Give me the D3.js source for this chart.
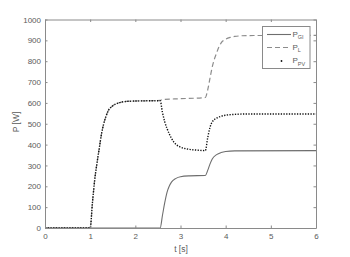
<!DOCTYPE html>
<html><head><meta charset="utf-8">
<script src="https://cdn.jsdelivr.net/npm/d3@7"></script>
<style>body{margin:0;background:#fff}svg{display:block}</style>
</head><body>
<svg id="c" width="350" height="257"></svg>
<script>
// ---- data ----
const xTicks = [0,1,2,3,4,5,6];
const yTicks = [0,100,200,300,400,500,600,700,800,900,1000];

const tPV = [0,1.0,1.05,1.1,1.15,1.2,1.25,1.3,1.35,1.4,1.5,1.6,1.7,1.8,2.0,2.3,2.55,2.6,2.65,2.7,2.75,2.8,2.85,2.9,3.0,3.1,3.2,3.4,3.55,3.6,3.65,3.7,3.8,3.9,4.0,4.2,4.5,6];
const vPV = [0,0,120,230,310,380,450,500,535,562,586,598,604,607,609,610,610,555,510,478,452,430,413,401,388,381,377,373,371,430,480,508,527,536,541,545,547,547];

const tL = [0,1.0,1.05,1.1,1.15,1.2,1.25,1.3,1.35,1.4,1.5,1.6,1.7,1.8,2.0,2.3,2.55,2.6,3.0,3.55,3.6,3.65,3.7,3.75,3.8,3.85,3.9,4.0,4.1,4.2,4.5,6];
const vL = [0,0,120,230,310,380,450,500,535,562,586,598,604,607,609,610,612,616,620,626,660,715,770,810,840,868,888,905,914,919,923,924];

const tG = [0,2.55,2.6,2.65,2.7,2.75,2.8,2.9,3.0,3.2,3.55,3.6,3.65,3.7,3.8,3.9,4.0,4.2,6];
const vG = [0,0,60,120,170,200,220,238,246,250,252,275,305,330,352,362,367,370,371];

const legendNames = [["P","GI"],["P","L"],["P","PV"]];

// ---- chart ----
const svg = d3.select("#c");
const L = 45, R = 316, T = 19.5, B = 228;
const x = d3.scaleLinear().domain([0,6]).range([L,R]);
const y = d3.scaleLinear().domain([0,1000]).range([B,T]);
const axisCol = "#8a8a8a", txtCol = "#5a5a5a";
const font = "Liberation Sans, Arial, sans-serif";

const toPts = (t,v) => t.map((d,i)=>[d,v[i]]);
const line = d3.line().x(d=>x(d[0])).y(d=>y(d[1])).curve(d3.curveMonotoneX);

const g = svg.append("g");
// series
g.append("path").datum(toPts(tG,vG)).attr("d",line)
  .attr("fill","none").attr("stroke","#6e6e6e").attr("stroke-width",1.1);
g.append("path").datum(toPts(tL,vL)).attr("d",line)
  .attr("fill","none").attr("stroke","#8c8c8c").attr("stroke-width",1.2)
  .attr("stroke-dasharray","5,3");
g.append("path").datum(toPts(tPV,vPV)).attr("d",line)
  .attr("fill","none").attr("stroke","#111").attr("stroke-width",1.4)
  .attr("stroke-dasharray","1.3,1.4");

// axes (box with inward ticks)
const ax = svg.append("g").attr("font-family",font).attr("font-size",8).attr("fill",txtCol);
const axB = d3.axisBottom(x).tickValues(xTicks).tickSizeInner(-2.5).tickSizeOuter(0).tickPadding(5).tickFormat(d3.format("d"));
const axL = d3.axisLeft(y).tickValues(yTicks).tickSizeInner(-2.5).tickSizeOuter(0).tickPadding(4).tickFormat(d3.format("d"));
const axT = d3.axisTop(x).tickValues(xTicks).tickSizeInner(-2.5).tickSizeOuter(0).tickFormat("");
const axR = d3.axisRight(y).tickValues(yTicks).tickSizeInner(-2.5).tickSizeOuter(0).tickFormat("");
[[axB,`translate(0,${B})`],[axL,`translate(${L},0)`],[axT,`translate(0,${T})`],[axR,`translate(${R},0)`]].forEach(([a,tr])=>{
  const gg = ax.append("g").attr("transform",tr).call(a);
  gg.select(".domain").attr("stroke",axisCol).attr("stroke-width",1);
  gg.selectAll(".tick line").attr("stroke",axisCol);
  gg.selectAll(".tick text").attr("fill",txtCol).attr("font-family",font).attr("font-size",8);
});

// axis labels
svg.append("text").attr("x",181).attr("y",252).attr("text-anchor","middle")
  .attr("font-family",font).attr("font-size",8.5).attr("fill",txtCol).text("t [s]");
svg.append("text").attr("transform","translate(19,122) rotate(-90)").attr("text-anchor","middle")
  .attr("font-family",font).attr("font-size",8.5).attr("fill",txtCol).text("P [W]");

// legend
const lg = svg.append("g");
lg.append("rect").attr("x",262.5).attr("y",26.5).attr("width",47.5).attr("height",42)
  .attr("fill","#fff").attr("stroke","#8a8a8a").attr("stroke-width",1);
const rowsY = [34.5,47.5,61];
const styles = [
  {stroke:"#6e6e6e", dash:null, w:1.1},
  {stroke:"#8c8c8c", dash:"5,3", w:1.2},
  null
];
rowsY.forEach((ry,i)=>{
  if (styles[i]) {
    lg.append("line").attr("x1",267).attr("x2",291).attr("y1",ry).attr("y2",ry)
      .attr("stroke",styles[i].stroke).attr("stroke-width",styles[i].w)
      .attr("stroke-dasharray",styles[i].dash);
  } else {
    lg.append("circle").attr("cx",281.5).attr("cy",ry).attr("r",0.9).attr("fill","#111");
  }
  const t = lg.append("text").attr("x",292.5).attr("y",ry+2).attr("font-family",font)
    .attr("font-size",8).attr("fill",txtCol);
  t.append("tspan").text(legendNames[i][0]);
  t.append("tspan").attr("dy",2.5).attr("font-size",5.5).text(legendNames[i][1]);
});
</script>
</body></html>
